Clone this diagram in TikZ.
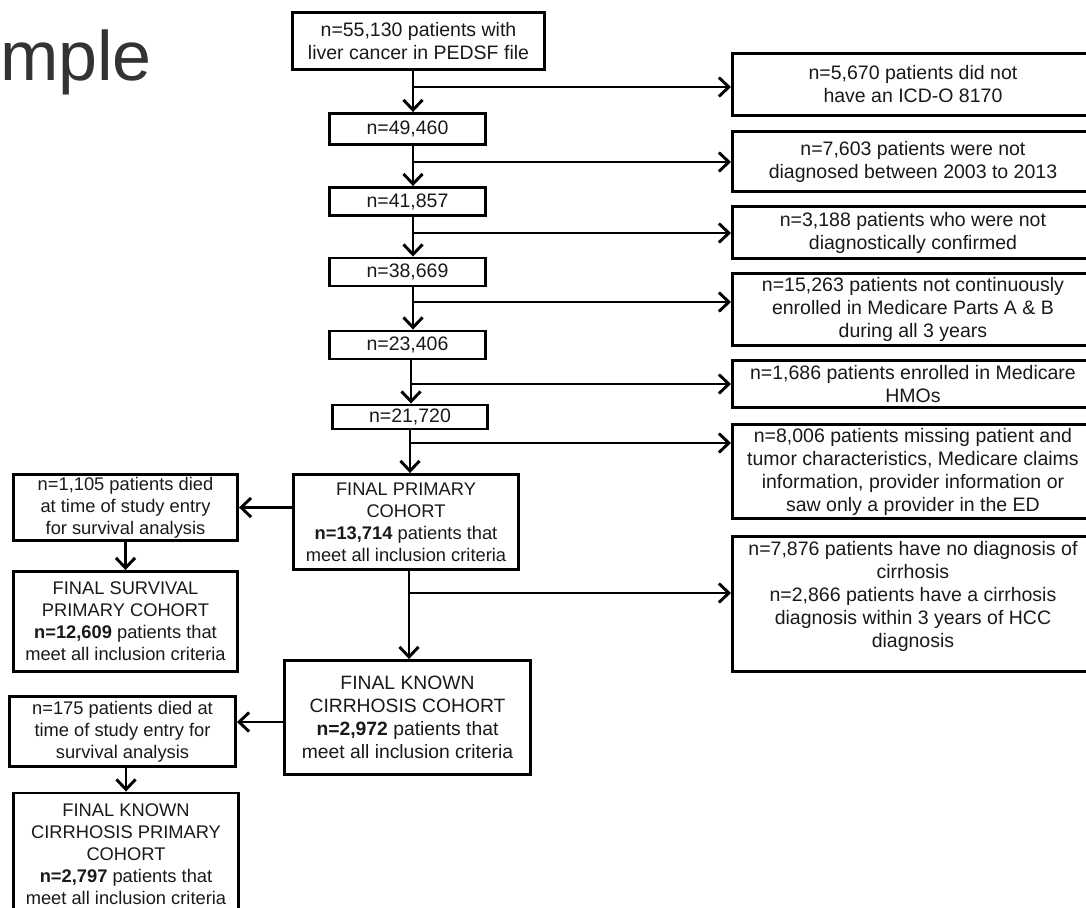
\documentclass[tikz,border=0pt]{standalone}
\usepackage{fontspec}
\setmainfont{Liberation Sans}
\usetikzlibrary{arrows.meta, calc, positioning}
\newcommand{\drawl}{\draw[line width=2.9pt]}

\begin{document}
\begin{tikzpicture}[x=1pt, y=-1pt, >={Straight Barb[length=10pt,width=19pt]},
  cbox/.style={draw, line width=2.9pt, align=center, inner sep=1pt, text=black!90,
    font=\fontsize{19.5}{23}\selectfont},
  sbox/.style={cbox, font=\fontsize{18.3}{22}\selectfont},
  rbox/.style={cbox, anchor=west, minimum width=361pt}]
\useasboundingbox (0,0) rectangle (1086,907);
\clip (0,0) rectangle (1086,907);
% Tieu de bi cat
\node[anchor=base west, inner sep=0, text=black!80, font=\fontsize{70}{84}\selectfont] (title) at (0,80) {mple};
% Cot chinh
\node[cbox, minimum width=252pt, minimum height=57pt] (b1) at (418.5,41) {n=55,130 patients with\\liver cancer in PEDSF file};
\node[cbox, minimum width=156pt, minimum height=31pt] (b2) at (407.5,129) {n=49,460};
\node[cbox, minimum width=156pt, minimum height=28pt] (b3) at (407.5,201.5) {n=41,857};
\node[cbox, minimum width=156pt, minimum height=28pt] (b4) at (407.5,272) {n=38,669};
\node[cbox, minimum width=156pt, minimum height=28pt] (b5) at (407.5,345) {n=23,406};
\node[cbox, minimum width=155pt, minimum height=24pt] (b6) at (410,417) {n=21,720};
\node[sbox, minimum width=225pt, minimum height=95pt] (b7) at (406,522) {FINAL PRIMARY\\COHORT\\\textbf{n=13,714} patients that\\meet all inclusion criteria};
\node[cbox, minimum width=246pt, minimum height=114pt, font=\fontsize{19.3}{23}\selectfont] (b8) at (407.5,717.5) {FINAL KNOWN\\CIRRHOSIS COHORT\\\textbf{n=2,972} patients that\\meet all inclusion criteria};
% Cac hop loai tru ben phai
\node[rbox, minimum height=62pt] (r1) at (731,84.5) {n=5,670 patients did not\\have an ICD-O 8170};
\node[rbox, minimum height=60pt] (r2) at (731,161.5) {n=7,603 patients were not\\diagnosed between 2003 to 2013};
\node[rbox, minimum height=52pt] (r3) at (731,232.5) {n=3,188 patients who were not\\diagnostically confirmed};
\node[rbox, minimum height=72pt] (r4) at (731,309.5) {n=15,263 patients not continuously\\enrolled in Medicare Parts A \& B\\during all 3 years};
\node[rbox, minimum height=47pt] (r5) at (731,384) {n=1,686 patients enrolled in Medicare\\HMOs};
\node[rbox, minimum height=94pt] (r6) at (731,471.5) {n=8,006 patients missing patient and\\tumor characteristics, Medicare claims\\information, provider information or\\saw only a provider in the ED};
\node[rbox, minimum height=135pt] (r7) at (731,604) {n=7,876 patients have no diagnosis of\\cirrhosis\\n=2,866 patients have a cirrhosis\\diagnosis within 3 years of HCC\\diagnosis\\[-3pt]};
% Cac hop ben trai
\node[sbox, minimum width=224pt, minimum height=66pt] (L1) at (125.5,507.5) {n=1,105 patients died\\at time of study entry\\for survival analysis};
\node[sbox, minimum width=224pt, minimum height=100pt] (L2) at (125.5,621.5) {FINAL SURVIVAL\\PRIMARY COHORT\\\textbf{n=12,609} patients that\\meet all inclusion criteria};
\node[sbox, minimum width=226pt, minimum height=70pt] (L3) at (122.5,731.5) {n=175 patients died at\\time of study entry for\\survival analysis};
\node[sbox, minimum width=225pt, minimum height=122pt] (L4) at (126,854) {FINAL KNOWN\\CIRRHOSIS PRIMARY\\COHORT\\\textbf{n=2,797} patients that\\meet all inclusion criteria};
% Diem re nhanh
\coordinate (j1) at (413,87);
\coordinate (j2) at (413,162);
\coordinate (j3) at (413,233);
\coordinate (j4) at (413,302);
\coordinate (j5) at (411,384);
\coordinate (j6) at (410,443);
\coordinate (j7) at (409,593);
\coordinate (k3) at (0,722);
% Mui ten doc
\drawl[->] (b1.south -| j1) -- (b2.north -| j1);
\drawl[->] (b2.south -| j2) -- (b3.north -| j2);
\drawl[->] (b3.south -| j3) -- (b4.north -| j3);
\drawl[->] (b4.south -| j4) -- (b5.north -| j4);
\drawl[->] (b5.south -| j5) -- (b6.north -| j5);
\drawl[->] (b6.south -| j6) -- (b7.north -| j6);
\drawl[->] (b7.south -| j7) -- (b8.north -| j7);
% Mui ten sang phai
\drawl[->] (j1) -- (j1 -| r1.west);
\drawl[->] (j2) -- (j2 -| r2.west);
\drawl[->] (j3) -- (j3 -| r3.west);
\drawl[->] (j4) -- (j4 -| r4.west);
\drawl[->] (j5) -- (j5 -| r5.west);
\drawl[->] (j6) -- (j6 -| r6.west);
\drawl[->] (j7) -- (j7 -| r7.west);
% Mui ten sang trai
\drawl[->] (b7.west |- L1) -- (L1.east);
\drawl[->] (L1.south) -- (L1.south |- L2.north);
\drawl[->] (b8.west |- k3) -- (L3.east |- k3);
\drawl[->] (L4.north |- L3.south) -- (L4.north);
\end{tikzpicture}
\end{document}
